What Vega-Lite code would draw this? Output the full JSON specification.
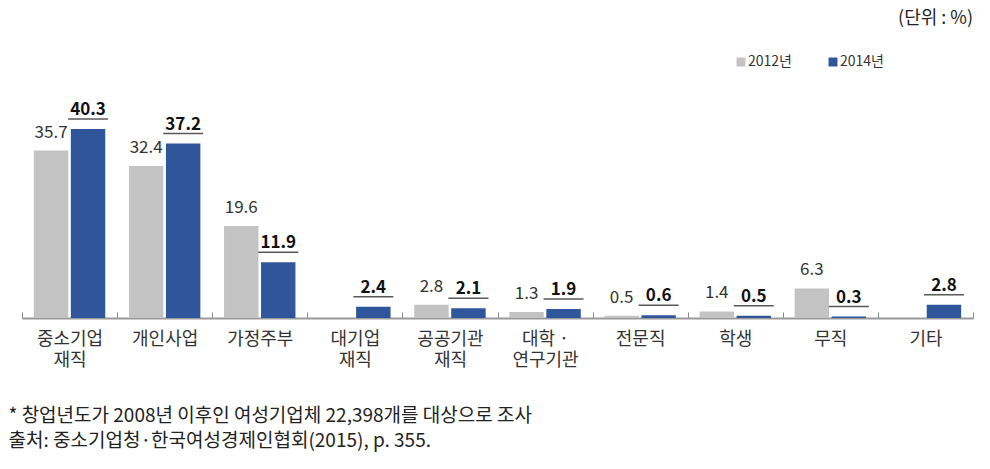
{
  "$schema": "https://vega.github.io/schema/vega-lite/v6.json",
  "width": 951,
  "height": 211,
  "autosize": {"type": "none"},
  "padding": {"left": 22, "top": 107, "right": 17, "bottom": 151},
  "background": "white",
  "title": {
    "text": "(단위 : %)",
    "anchor": "end",
    "frame": "group",
    "orient": "top",
    "offset": 27,
    "font": "Noto Sans CJK KR",
    "fontSize": 18,
    "fontWeight": "normal",
    "color": "#222222"
  },
  "config": {
    "view": {"stroke": null},
    "font": "Noto Sans CJK KR"
  },
  "data": {
    "values": [
      {"category": "중소기업\n재직", "year": "2012년", "value": 35.7},
      {"category": "중소기업\n재직", "year": "2014년", "value": 40.3},
      {"category": "개인사업", "year": "2012년", "value": 32.4},
      {"category": "개인사업", "year": "2014년", "value": 37.2},
      {"category": "가정주부", "year": "2012년", "value": 19.6},
      {"category": "가정주부", "year": "2014년", "value": 11.9},
      {"category": "대기업\n재직", "year": "2014년", "value": 2.4},
      {"category": "공공기관\n재직", "year": "2012년", "value": 2.8},
      {"category": "공공기관\n재직", "year": "2014년", "value": 2.1},
      {"category": "대학 ·\n연구기관", "year": "2012년", "value": 1.3},
      {"category": "대학 ·\n연구기관", "year": "2014년", "value": 1.9},
      {"category": "전문직", "year": "2012년", "value": 0.5},
      {"category": "전문직", "year": "2014년", "value": 0.6},
      {"category": "학생", "year": "2012년", "value": 1.4},
      {"category": "학생", "year": "2014년", "value": 0.5},
      {"category": "무직", "year": "2012년", "value": 6.3},
      {"category": "무직", "year": "2014년", "value": 0.3},
      {"category": "기타", "year": "2014년", "value": 2.8}
    ]
  },
  "encoding": {
    "x": {
      "field": "category",
      "type": "nominal",
      "sort": ["중소기업\n재직", "개인사업", "가정주부", "대기업\n재직", "공공기관\n재직", "대학 ·\n연구기관", "전문직", "학생", "무직", "기타"],
      "scale": {"paddingInner": 0, "paddingOuter": 0},
      "axis": {
        "title": ["* 창업년도가 2008년 이후인 여성기업체 22,398개를 대상으로 조사", "출처: 중소기업청·한국여성경제인협회(2015), p. 355."],
        "titleFont": "Noto Sans CJK KR",
        "titleFontSize": 19,
        "titleFontWeight": "normal",
        "titleColor": "#222222",
        "titleAnchor": "start",
        "titleAlign": "left",
        "titleBaseline": "alphabetic",
        "titleLineHeight": 25,
        "titleX": -14,
        "titleY": 103,
        "labelAngle": 0,
        "labelExpr": "split(datum.label, '\\n')",
        "labelFont": "Noto Sans CJK KR",
        "labelFontSize": 18,
        "labelLineHeight": 21,
        "labelColor": "#333333",
        "labelPadding": 18,
        "labelBaseline": "top",
        "tickBand": "extent",
        "tickSize": -6,
        "tickColor": "#888888",
        "tickWidth": 1,
        "domainColor": "#999999",
        "domainWidth": 2
      }
    },
    "xOffset": {
      "field": "year",
      "type": "nominal",
      "scale": {"domain": ["2012년", "2014년"], "paddingInner": 0.07, "paddingOuter": 0.32}
    },
    "y": {
      "field": "value",
      "type": "quantitative",
      "scale": {"domain": [0, 45], "nice": false},
      "axis": null
    }
  },
  "layer": [
    {
      "mark": {"type": "bar"},
      "encoding": {
        "color": {
          "field": "year",
          "type": "nominal",
          "scale": {"domain": ["2012년", "2014년"], "range": ["#C3C3C3", "#2F559A"]},
          "legend": {
            "title": null,
            "orient": "none",
            "direction": "horizontal",
            "legendX": 712,
            "legendY": -52,
            "symbolType": "square",
            "symbolSize": 80,
            "symbolStrokeWidth": 0,
            "labelFont": "Noto Sans CJK KR",
            "labelFontSize": 14,
            "labelColor": "#333333",
            "labelOffset": 0,
            "columnPadding": 34
          }
        }
      }
    },
    {
      "transform": [{"filter": "datum.year == '2012년'"}],
      "mark": {"type": "text", "baseline": "alphabetic", "yOffset": -13, "fontSize": 17, "color": "#333333", "font": "Noto Sans CJK KR"},
      "encoding": {"text": {"field": "value", "type": "quantitative", "format": ".1f"}}
    },
    {
      "transform": [{"filter": "datum.year == '2014년'"}],
      "mark": {"type": "text", "baseline": "alphabetic", "yOffset": -14, "fontSize": 17, "fontWeight": "bold", "color": "#111111", "font": "Noto Sans CJK KR"},
      "encoding": {"text": {"field": "value", "type": "quantitative", "format": ".1f"}}
    },
    {
      "transform": [{"filter": "datum.year == '2014년'"}],
      "mark": {"type": "tick", "orient": "horizontal", "size": 40, "thickness": 1.5, "yOffset": -10, "color": "#111111"},
      "encoding": {}
    }
  ]
}
